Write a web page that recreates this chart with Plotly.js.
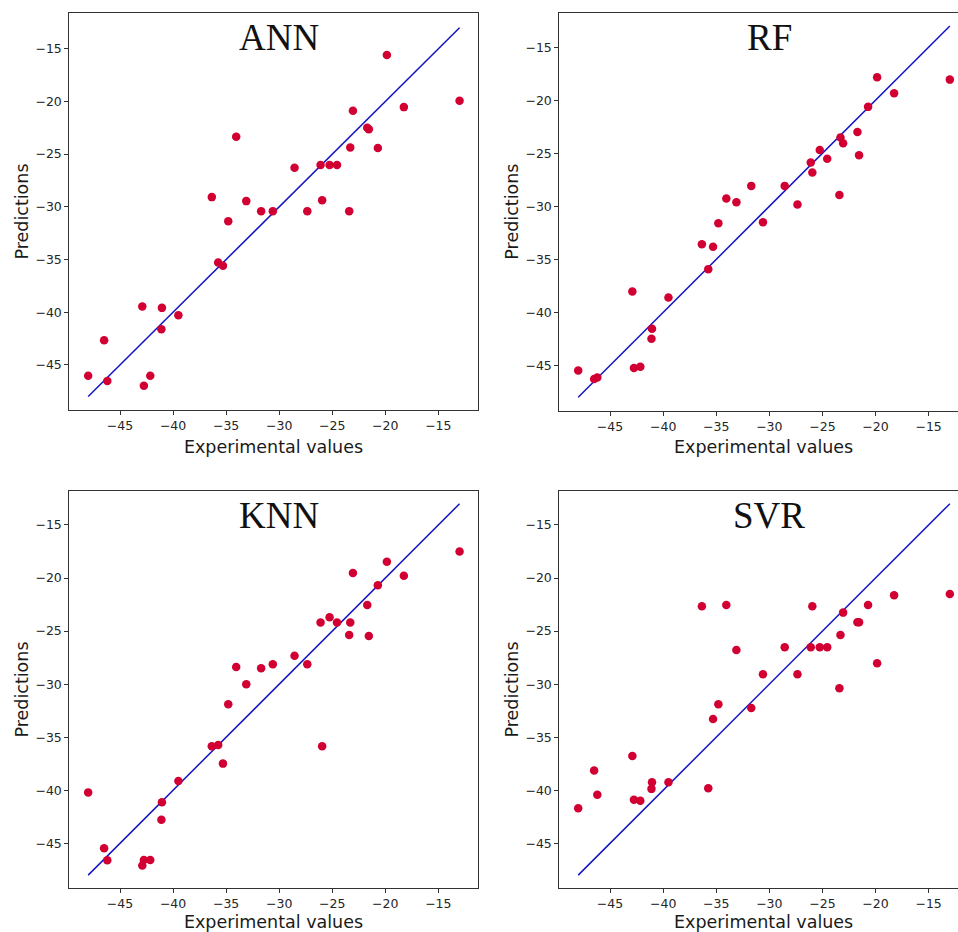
<!DOCTYPE html>
<html>
<head>
<meta charset="utf-8">
<script src="https://cdn.plot.ly/plotly-3.0.1.min.js"></script>
<style>
  html, body { margin: 0; padding: 0; background: #ffffff; overflow: hidden; }
  #chart { width: 970px; height: 932px; }
</style>
</head>
<body>
<div id="chart"></div>
<script>
// Experimental (true) values shared by all four models
const experimental = [-48.0, -46.5, -46.2, -42.9, -42.75, -42.15, -41.1, -41.05, -39.5, -36.35,
  -35.75, -35.3, -34.8, -34.05, -33.1, -31.7, -30.6, -28.55, -27.35, -26.1,
  -25.95, -25.25, -24.55, -23.4, -23.3, -23.05, -21.7, -21.55, -20.7, -19.85,
  -18.25, -13.0];

const predANN = [-46.04, -42.66, -46.52, -39.46, -46.99, -46.04, -41.61, -39.59, -40.28, -29.08,
  -35.28, -35.6, -31.36, -23.35, -29.46, -30.41, -30.41, -26.3, -30.41, -26.04,
  -29.37, -26.04, -26.04, -30.41, -24.37, -20.89, -22.5, -22.63, -24.43, -15.6,
  -20.54, -19.94];

const predRF = [-45.47, -46.29, -46.13, -38.03, -45.25, -45.13, -42.49, -41.55, -38.59, -33.57,
  -35.92, -33.82, -31.59, -29.26, -29.61, -28.07, -31.49, -28.07, -29.83, -25.87,
  -26.81, -24.68, -25.52, -28.92, -23.51, -24.05, -22.98, -25.18, -20.62, -17.83,
  -19.34, -18.05];

const predKNN = [-40.2, -45.47, -46.6, -47.1, -46.57, -46.57, -42.77, -41.14, -39.13, -35.86,
  -35.73, -37.49, -31.9, -28.38, -30.02, -28.51, -28.13, -27.32, -28.13, -24.2,
  -35.86, -23.7, -24.2, -25.37, -24.2, -19.52, -22.54, -25.46, -20.69, -18.46,
  -19.78, -17.51];

const predSVR = [-41.7, -38.13, -40.42, -36.77, -40.9, -41.0, -39.87, -39.25, -39.25, -22.67,
  -39.81, -33.28, -31.9, -22.54, -26.78, -32.25, -29.07, -26.53, -29.07, -26.53,
  -22.67, -26.53, -26.53, -30.39, -25.37, -23.26, -24.17, -24.17, -22.54, -28.04,
  -21.63, -21.5];

const modelNames = ['ANN', 'RF', 'KNN', 'SVR'];
const predictions = [predANN, predRF, predKNN, predSVR];

const lineEnds = [Math.min(...experimental), Math.max(...experimental)];

const W = 970, H = 932;
const pxX = [[69.3, 477.7], [559.3, 968.0], [69.3, 477.7], [559.3, 968.0]];
const pxY = [[12.7, 410.3], [12.7, 410.5], [490.7, 888.3], [490.7, 888.3]];
const xRange = [-49.78, -11.29];
const yRanges = [[-49.31, -11.58], [-49.25, -11.74], [-49.24, -11.77], [-49.24, -11.77]];

const dotColor = '#d20032';
const lineColor = '#1414c4';
const axisFont = { family: 'DejaVu Sans, sans-serif', size: 12.5, color: '#262626' };
const titleFont = { family: 'DejaVu Sans, sans-serif', size: 17.5, color: '#1a1a1a' };

const traces = [];
const layout = {
  width: W, height: H,
  margin: { l: 0, r: 0, t: 0, b: 0, pad: 0 },
  paper_bgcolor: '#ffffff', plot_bgcolor: '#ffffff',
  showlegend: false,
  annotations: []
};

for (let i = 0; i < 4; i++) {
  const sfx = i === 0 ? '' : String(i + 1);
  const xa = 'x' + sfx, ya = 'y' + sfx;
  traces.push({
    type: 'scatter', mode: 'lines', x: lineEnds, y: lineEnds,
    xaxis: xa, yaxis: ya,
    line: { color: lineColor, width: 1.5 }, hoverinfo: 'skip'
  });
  traces.push({
    type: 'scatter', mode: 'markers', x: experimental, y: predictions[i],
    xaxis: xa, yaxis: ya, name: modelNames[i],
    marker: { color: dotColor, size: 8.5, line: { width: 0 } }
  });
  const common = {
    showgrid: false, zeroline: false,
    showline: true, mirror: true, linecolor: '#333333', linewidth: 1,
    ticks: 'outside', ticklen: 4, tickwidth: 1, tickcolor: '#333333',
    tickfont: axisFont, dtick: 5, tick0: 0
  };
  layout['xaxis' + sfx] = Object.assign({}, common, {
    domain: [pxX[i][0] / W, pxX[i][1] / W],
    range: xRange, anchor: ya,
    title: { text: 'Experimental values', font: titleFont, standoff: 8 }
  });
  layout['yaxis' + sfx] = Object.assign({}, common, {
    domain: [1 - pxY[i][1] / H, 1 - pxY[i][0] / H],
    range: yRanges[i], anchor: xa,
    title: { text: 'Predictions', font: titleFont, standoff: 2 }
  });
  layout.annotations.push({
    text: modelNames[i], xref: xa, yref: ya + ' domain',
    x: -30, y: 1 - 25 / 397.6, xanchor: 'center', yanchor: 'middle',
    showarrow: false,
    font: { family: 'Liberation Serif, Times New Roman, serif', size: 37, color: '#111111' }
  });
}

Plotly.newPlot('chart', traces, layout, { displayModeBar: false, staticPlot: true });
</script>
</body>
</html>
